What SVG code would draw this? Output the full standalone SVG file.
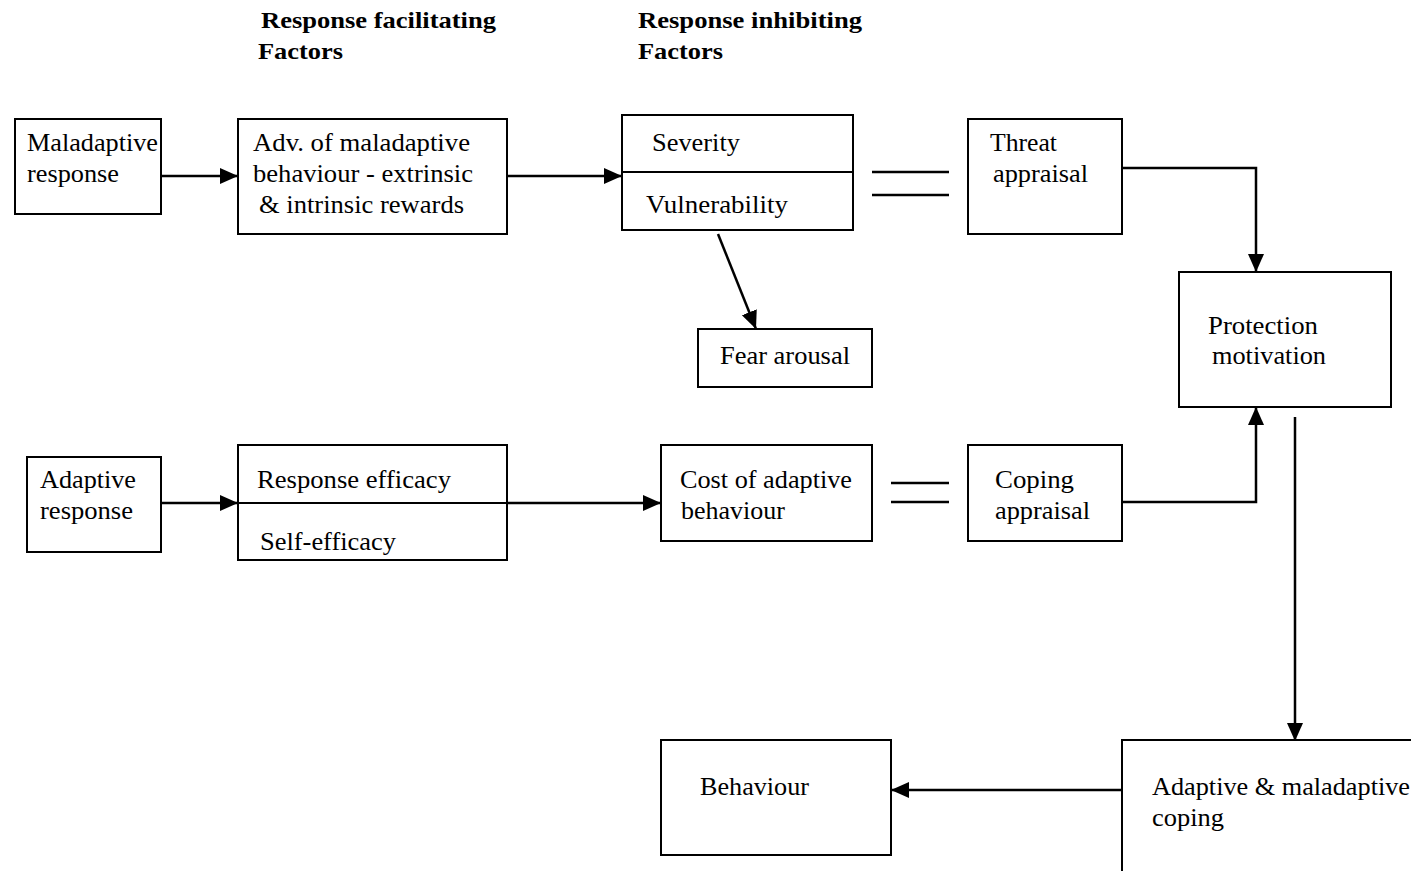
<svg xmlns="http://www.w3.org/2000/svg" width="1411" height="871" viewBox="0 0 1411 871">
<style>
.box{fill:#fff;stroke:#000;stroke-width:2}
.t{font-family:"Liberation Serif","Times New Roman",serif;font-size:25px;fill:#000}
.h{font-family:"Liberation Serif","Times New Roman",serif;font-size:24px;font-weight:bold;fill:#000}
.c{fill:none;stroke:#000;stroke-width:2.5}
</style>
<defs>
<marker id="ah" markerUnits="userSpaceOnUse" markerWidth="20" markerHeight="18" refX="18" refY="8" orient="auto">
<path d="M0,0 L18,8 L0,16 z" fill="#000"/>
</marker>
</defs>
<rect width="1411" height="871" fill="#fff"/>
<g id="headers">
<text class="h" x="261" y="28" textLength="235" lengthAdjust="spacingAndGlyphs">Response facilitating</text>
<text class="h" x="258" y="59" textLength="85" lengthAdjust="spacingAndGlyphs">Factors</text>
<text class="h" x="638" y="28" textLength="224" lengthAdjust="spacingAndGlyphs">Response inhibiting</text>
<text class="h" x="638" y="59" textLength="85" lengthAdjust="spacingAndGlyphs">Factors</text>
</g>
<g id="connectors">
<line class="c" x1="161" y1="176" x2="238" y2="176" marker-end="url(#ah)"/>
<line class="c" x1="507" y1="176" x2="622" y2="176" marker-end="url(#ah)"/>
<line class="c" x1="718" y1="234" x2="756" y2="329" marker-end="url(#ah)"/>
<line class="c" x1="872" y1="172" x2="949" y2="172"/>
<line class="c" x1="872" y1="195" x2="949" y2="195"/>
<polyline class="c" points="1122,168 1256,168 1256,272" marker-end="url(#ah)"/>
<line class="c" x1="161" y1="503" x2="238" y2="503" marker-end="url(#ah)"/>
<line class="c" x1="507" y1="503" x2="661" y2="503" marker-end="url(#ah)"/>
<line class="c" x1="891" y1="483" x2="949" y2="483"/>
<line class="c" x1="891" y1="502" x2="949" y2="502"/>
<polyline class="c" points="1122,502 1256,502 1256,407" marker-end="url(#ah)"/>
<line class="c" x1="1295" y1="417" x2="1295" y2="741" marker-end="url(#ah)"/>
<line class="c" x1="1122" y1="790" x2="891" y2="790" marker-end="url(#ah)"/>
</g>
<g id="maladaptive-response">
<rect class="box" x="15" y="119" width="146" height="95"/>
<text class="t" x="27" y="151" textLength="131" lengthAdjust="spacingAndGlyphs">Maladaptive</text>
<text class="t" x="27" y="182" textLength="92" lengthAdjust="spacingAndGlyphs">response</text>
</g>
<g id="adv-maladaptive">
<rect class="box" x="238" y="119" width="269" height="115"/>
<text class="t" x="253" y="151" textLength="217" lengthAdjust="spacingAndGlyphs">Adv. of maladaptive</text>
<text class="t" x="253" y="182" textLength="220" lengthAdjust="spacingAndGlyphs">behaviour - extrinsic</text>
<text class="t" x="259" y="213" textLength="205" lengthAdjust="spacingAndGlyphs">&amp; intrinsic rewards</text>
</g>
<g id="severity-vulnerability">
<rect class="box" x="622" y="115" width="231" height="115"/>
<line class="box" x1="622" y1="172" x2="853" y2="172"/>
<text class="t" x="652" y="151" textLength="88" lengthAdjust="spacingAndGlyphs">Severity</text>
<text class="t" x="646" y="213" textLength="142" lengthAdjust="spacingAndGlyphs">Vulnerability</text>
</g>
<g id="threat-appraisal">
<rect class="box" x="968" y="119" width="154" height="115"/>
<text class="t" x="990" y="151" textLength="67" lengthAdjust="spacingAndGlyphs">Threat</text>
<text class="t" x="993" y="182" textLength="95" lengthAdjust="spacingAndGlyphs">appraisal</text>
</g>
<g id="fear-arousal">
<rect class="box" x="698" y="329" width="174" height="58"/>
<text class="t" x="720" y="364" textLength="130" lengthAdjust="spacingAndGlyphs">Fear arousal</text>
</g>
<g id="protection-motivation">
<rect class="box" x="1179" y="272" width="212" height="135"/>
<text class="t" x="1208" y="334" textLength="110" lengthAdjust="spacingAndGlyphs">Protection</text>
<text class="t" x="1212" y="364" textLength="114" lengthAdjust="spacingAndGlyphs">motivation</text>
</g>
<g id="adaptive-response">
<rect class="box" x="27" y="457" width="134" height="95"/>
<text class="t" x="40" y="488" textLength="96" lengthAdjust="spacingAndGlyphs">Adaptive</text>
<text class="t" x="40" y="519" textLength="93" lengthAdjust="spacingAndGlyphs">response</text>
</g>
<g id="efficacy">
<rect class="box" x="238" y="445" width="269" height="115"/>
<line class="box" x1="238" y1="503" x2="507" y2="503"/>
<text class="t" x="257" y="488" textLength="194" lengthAdjust="spacingAndGlyphs">Response efficacy</text>
<text class="t" x="260" y="550" textLength="136" lengthAdjust="spacingAndGlyphs">Self-efficacy</text>
</g>
<g id="cost-adaptive">
<rect class="box" x="661" y="445" width="211" height="96"/>
<text class="t" x="680" y="488" textLength="172" lengthAdjust="spacingAndGlyphs">Cost of adaptive</text>
<text class="t" x="681" y="519" textLength="104" lengthAdjust="spacingAndGlyphs">behaviour</text>
</g>
<g id="coping-appraisal">
<rect class="box" x="968" y="445" width="154" height="96"/>
<text class="t" x="995" y="488" textLength="79" lengthAdjust="spacingAndGlyphs">Coping</text>
<text class="t" x="995" y="519" textLength="95" lengthAdjust="spacingAndGlyphs">appraisal</text>
</g>
<g id="behaviour">
<rect class="box" x="661" y="740" width="230" height="115"/>
<text class="t" x="700" y="795" textLength="109" lengthAdjust="spacingAndGlyphs">Behaviour</text>
</g>
<g id="coping-outcome">
<rect class="box" x="1122" y="740" width="300" height="150"/>
<text class="t" x="1152" y="795" textLength="258" lengthAdjust="spacingAndGlyphs">Adaptive &amp; maladaptive</text>
<text class="t" x="1152" y="826" textLength="72" lengthAdjust="spacingAndGlyphs">coping</text>
</g>
</svg>
